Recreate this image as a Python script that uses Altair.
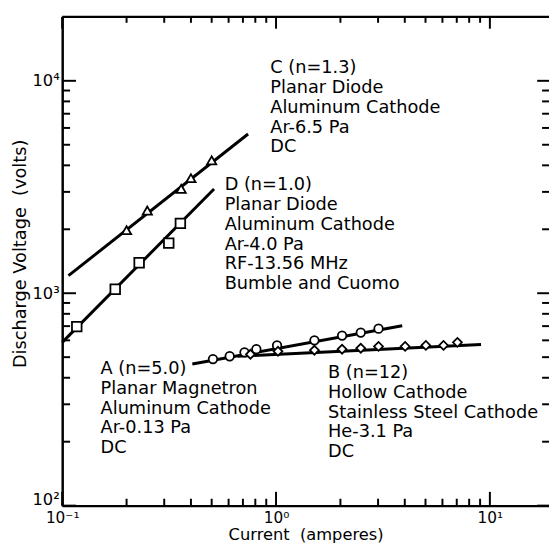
import altair as alt
import pandas as pd

# ---- data (current in A, voltage in V) ----
series_names = ["A", "B", "C", "D"]
series_shapes = ["circle", "diamond", "triangle-up", "square"]
series_sizes = [75, 95, 115, 100]

a_current = [0.507, 0.607, 0.712, 0.809, 1.011, 1.512, 2.036, 2.49, 3.015]
a_voltage = [490, 505, 527, 545, 568, 600, 632, 653, 681]
a_fit_current = [0.406, 3.89]
a_fit_voltage = [464, 703]

b_current = [0.759, 1.021, 1.512, 2.036, 2.49, 3.015, 4.015, 5.02, 6.07, 7.05]
b_voltage = [516, 533, 539, 545, 551, 562, 562, 568, 568, 587]
b_fit_current = [0.66, 9.09]
b_fit_voltage = [505, 574]

c_current = [0.20, 0.25, 0.36, 0.40, 0.50]
c_voltage = [1980, 2450, 3100, 3480, 4220]
c_fit_current = [0.107, 0.74]
c_fit_voltage = [1210, 5620]

d_current = [0.117, 0.177, 0.229, 0.315, 0.357]
d_voltage = [696, 1044, 1392, 1722, 2131]
d_fit_current = [0.1, 0.513]
d_fit_voltage = [587, 3095]

# annotation blocks: anchor = left edge / first-line baseline, in data units
note_series = ["C", "D", "A", "B"]
note_current = [0.94, 0.575, 0.1512, 1.75]
note_voltage = [10830, 3047, 415, 398]
note_text = [
    "C (n=1.3)\nPlanar Diode\nAluminum Cathode\nAr-6.5 Pa\nDC",
    "D (n=1.0)\nPlanar Diode\nAluminum Cathode\nAr-4.0 Pa\nRF-13.56 MHz\nBumble and Cuomo",
    "A (n=5.0)\nPlanar Magnetron\nAluminum Cathode\nAr-0.13 Pa\nDC",
    "B (n=12)\nHollow Cathode\nStainless Steel Cathode\nHe-3.1 Pa\nDC",
]

x_domain = [0.1, 18.9]
y_domain = [100, 20000]
x_major = [0.1, 1, 10]
x_minor = [0.2, 0.3, 0.4, 0.5, 0.6, 0.7, 0.8, 0.9, 2, 3, 4, 5, 6, 7, 8, 9]
y_major = [100, 1000, 10000]
y_minor = [200, 300, 400, 500, 600, 700, 800, 900,
           2000, 3000, 4000, 5000, 6000, 7000, 8000, 9000]

W, H = 494, 496
FONT = "DejaVu Sans"

# ---- tables ----
pts = pd.concat([
    pd.DataFrame({"series": s, "current": c, "voltage": v})
    for s, c, v in [("A", a_current, a_voltage), ("B", b_current, b_voltage),
                    ("C", c_current, c_voltage), ("D", d_current, d_voltage)]
])
fits = pd.concat([
    pd.DataFrame({"series": s, "current": c, "voltage": v})
    for s, c, v in [("A", a_fit_current, a_fit_voltage), ("B", b_fit_current, b_fit_voltage),
                    ("C", c_fit_current, c_fit_voltage), ("D", d_fit_current, d_fit_voltage)]
])
notes = pd.DataFrame({"series": note_series, "current": note_current,
                      "voltage": note_voltage, "text": note_text})

xs = alt.Scale(type="log", domain=x_domain, nice=False)
ys = alt.Scale(type="log", domain=y_domain, nice=False)

x_axis = alt.Axis(
    values=x_major, ticks=False, grid=False, domain=True, domainColor="black",
    domainWidth=2.5, labelFont=FONT, labelFontSize=15.5, labelColor="black",
    labelPadding=5, labelFlush=False,
    labelExpr="datum.value < 0.5 ? '10⁻¹' : datum.value < 5 ? '10⁰' : '10¹'",
    title="Current\u00a0 (amperes)", titleFont=FONT, titleFontSize=16.5,
    titleFontWeight="normal", titleColor="black", titlePadding=1,
)
y_axis = alt.Axis(
    values=y_major, ticks=False, grid=False, domain=True, domainColor="black",
    domainWidth=2.5, labelFont=FONT, labelFontSize=16.5, labelColor="black",
    labelPadding=3, labelFlush=False,
    labelOffset={"condition": {"test": "datum.value < 500", "value": -6}, "value": 0},
    labelExpr="datum.value < 500 ? '10²' : datum.value < 5000 ? '10³' : '10⁴'",
    title="Discharge Voltage\u00a0 (volts)", titleFont=FONT, titleFontSize=18,
    titleFontWeight="normal", titleColor="black", titlePadding=3, titleY=240,
)

def X(field="current"):
    return alt.X(f"{field}:Q", scale=xs, axis=x_axis)

def Y(field="voltage"):
    return alt.Y(f"{field}:Q", scale=ys, axis=y_axis)

lines = alt.Chart(fits).mark_line(color="black", strokeWidth=3).encode(
    x=X(), y=Y(), detail="series:N")

points = alt.Chart(pts).mark_point(
    filled=True, fill="white", stroke="black", strokeWidth=1.8, opacity=1
).encode(
    x=X(), y=Y(),
    shape=alt.Shape("series:N", scale=alt.Scale(domain=series_names, range=series_shapes), legend=None),
    size=alt.Size("series:N", scale=alt.Scale(domain=series_names, range=series_sizes), legend=None),
)

texts = alt.Chart(notes).mark_text(
    align="left", baseline="alphabetic", font=FONT, fontSize=18, lineBreak="\n",
    lineHeight=20, color="black"
).encode(x=X(), y=Y(), text="text:N")

# top border of the frame
top_border = alt.Chart(pd.DataFrame({"current": [x_domain[0]]})).mark_rule(
    color="black", strokeWidth=2.5
).encode(x=alt.value(0), x2=alt.value(W), y=alt.value(0))

# ---- inward ticks on all four sides ----
def xticks(vals, length, top):
    df = pd.DataFrame({"current": vals})
    r = alt.Chart(df).mark_rule(color="black", strokeWidth=2)
    if top:
        return r.encode(x=X(), y=alt.value(0), y2=alt.value(length))
    return r.encode(x=X(), y=alt.value(H), y2=alt.value(H - length))

def yticks(vals, length, right):
    df = pd.DataFrame({"voltage": vals})
    r = alt.Chart(df).mark_rule(color="black", strokeWidth=2)
    if right:
        return r.encode(y=Y(), x=alt.value(W), x2=alt.value(W - length))
    return r.encode(y=Y(), x=alt.value(0), x2=alt.value(length))

tick_layers = [
    xticks(x_major, 14, False), xticks(x_minor, 7, False),
    xticks(x_major, 12, True), xticks(x_minor, 6, True),
    yticks(y_major, 14, False), yticks(y_minor, 8, False),
    yticks(y_major, 12, True), yticks(y_minor, 7, True),
]

chart = alt.layer(lines, points, texts, top_border, *tick_layers).properties(
    width=W, height=H,
    autosize=alt.AutoSizeParams(type="none"),
    padding={"left": 55, "top": 5, "right": 0, "bottom": 40},
).configure_view(stroke=None).configure(background="white")

chart.save("out.html", embed_options={"renderer": "svg", "actions": False})
